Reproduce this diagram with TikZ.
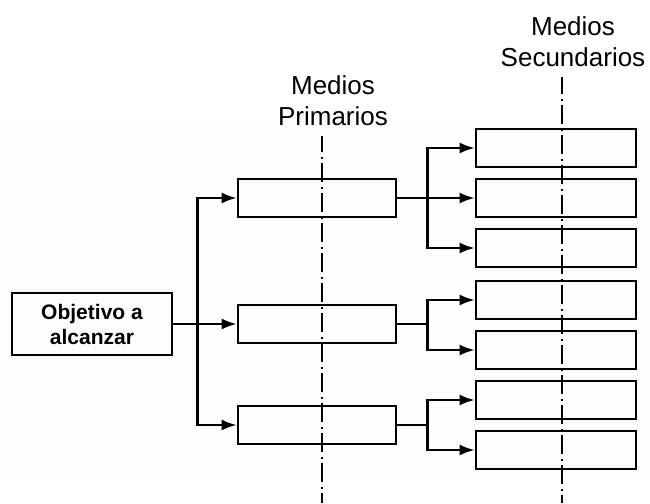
\documentclass[tikz,border=0pt]{standalone}
\usepackage{fontspec}
\setmainfont{Liberation Sans}
\usetikzlibrary{arrows.meta}

\begin{document}
\begin{tikzpicture}[x=1pt, y=-1pt, line width=2.4pt,
      every node/.append style={inner sep=0pt},
      caja/.style={draw, line width=2.6pt, minimum width=160pt, minimum height=38pt},
      flecha/.style={-{Latex[length=15pt,width=11pt]}},
      eje/.style={line width=2.2pt, dash pattern=on 19pt off 5pt on 1.5pt off 4.5pt},
      titulo/.style={font=\fontsize{26}{31}\selectfont, align=center, anchor=north}]
  \tikzstyle{primario} = [caja, minimum width=158pt]
  \useasboundingbox (0,0) rectangle (650,503);
  \fill[black!0.7] (0,120) rectangle (650,480);

  \node (primariosTitulo) [titulo] at (333,74) {Medios\\Primarios};
  \node (secundariosTitulo) [titulo] at (573,15) {Medios\\Secundarios};

  \node (objetivo) [caja, minimum height=62pt, align=center,
        font=\bfseries\fontsize{21}{25}\selectfont] at (92,324) {Objetivo a\\alcanzar};

  \node (primarioA) [primario] at (317,198) {};
  \node (primarioB) [primario] at (317,324) {};
  \node (primarioC) [primario] at (317,425) {};

  \node (secundarioA1) [caja] at (556,148) {};
  \node (secundarioA2) [caja] at (556,198) {};
  \node (secundarioA3) [caja] at (556,248) {};
  \node (secundarioB1) [caja] at (556,300) {};
  \node (secundarioB2) [caja] at (556,350) {};
  \node (secundarioC1) [caja] at (556,400) {};
  \node (secundarioC2) [caja] at (556,450) {};

  \draw[flecha] (objetivo.east) -- (primarioB.west);
  \draw[flecha] (objetivo.east) -- ++(24,0) |- (primarioA.west);
  \draw[flecha] (objetivo.east) -- ++(24,0) |- (primarioC.west);

  \draw[flecha] (primarioA.east) -- ++(30,0) |- (secundarioA1.west);
  \draw[flecha] (primarioA.east) -- (secundarioA2.west);
  \draw[flecha] (primarioA.east) -- ++(30,0) |- (secundarioA3.west);
  \draw[flecha] (primarioB.east) -- ++(30,0) |- (secundarioB1.west);
  \draw[flecha] (primarioB.east) -- ++(30,0) |- (secundarioB2.west);
  \draw[flecha] (primarioC.east) -- ++(30,0) |- (secundarioC1.west);
  \draw[flecha] (primarioC.east) -- ++(30,0) |- (secundarioC2.west);

  \coordinate (ejePrimarioArriba) at (322,136);
  \coordinate (ejePrimarioAbajo) at (322,503);
  \coordinate (ejeSecundarioArriba) at (562,77);
  \coordinate (ejeSecundarioAbajo) at (562,503);
  \draw[eje, dash phase=3pt] (ejePrimarioArriba) -- (ejePrimarioAbajo);
  \draw[eje, dash phase=2pt] (ejeSecundarioArriba) -- (ejeSecundarioAbajo);
\end{tikzpicture}
\end{document}
